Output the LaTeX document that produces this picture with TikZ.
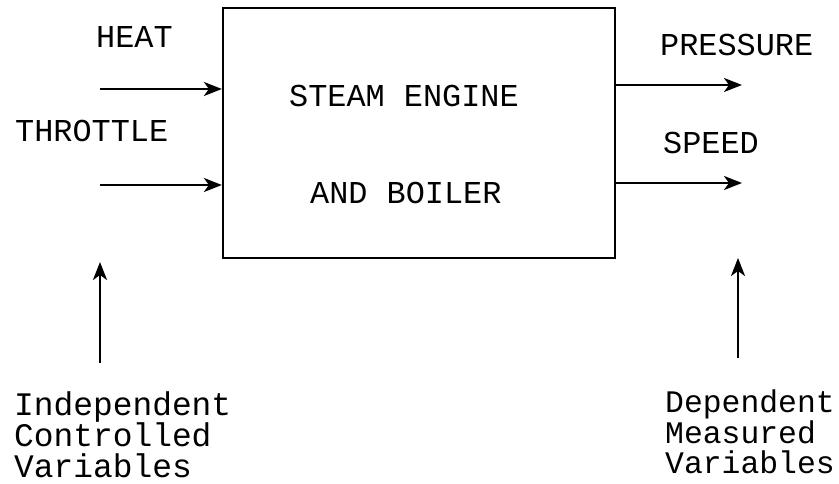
\documentclass[tikz,border=0pt]{standalone}
\usepackage{fontspec}
\setmonofont{Liberation Mono}
\usetikzlibrary{positioning, calc, arrows.meta}

\tikzset{
    flow/.style={line width=2.5bp, -{Stealth[length=18bp, width=14bp, inset=5bp]}},
    caps/.style={inner sep=0pt, anchor=west, font=\ttfamily\fontsize{32}{32}\selectfont},
    notes/.style={inner sep=0pt, anchor=base west, align=left}
}

\begin{document}
\begin{tikzpicture}[x=1bp, y=1bp]
    \useasboundingbox (0,0) rectangle (839,484);

    % Engine Box
    \node[draw, line width=2.2bp, minimum width=392bp, minimum height=250bp, inner sep=0pt] (engine) at (419, 351) {};
    \node[caps] (steam) at (289, 388) {STEAM ENGINE};
    \node[caps] (boiler) at (310, 291) {AND BOILER};

    % Inputs
    \node[caps] (heat) at (96, 447) {HEAT};
    \node[caps] (throttle) at (15, 353) {THROTTLE};
    \coordinate (heatin) at (100, 395);
    \coordinate (throttlein) at (100, 299);
    \draw[flow] (heatin) -- (heatin -| engine.west);
    \draw[flow] (throttlein) -- (throttlein -| engine.west);

    % Outputs
    \node[caps] (pressure) at (660, 439) {PRESSURE};
    \node[caps] (speed) at (663, 341) {SPEED};
    \coordinate (pressureout) at (742, 399);
    \coordinate (speedout) at (742, 301);
    \draw[flow] (pressureout -| engine.east) -- (pressureout);
    \draw[flow] (speedout -| engine.east) -- (speedout);

    % Variable Labels
    \node[notes, font={\ttfamily\fontsize{33}{31.5}\selectfont\lineskiplimit=-100bp\relax}] (independent) at (14, 6) {Independent\\Controlled\\Variables};
    \node[notes, font={\ttfamily\fontsize{31.5}{31}\selectfont\lineskiplimit=-100bp\relax}] (dependent) at (665, 10) {Dependent\\Measured\\Variables};
    \coordinate (inputs) at (100, 222);
    \coordinate (outputs) at (738, 226);
    \draw[flow] (inputs |- 0,121) -- (inputs);
    \draw[flow] (outputs |- 0,126) -- (outputs);

\end{tikzpicture}
\end{document}
